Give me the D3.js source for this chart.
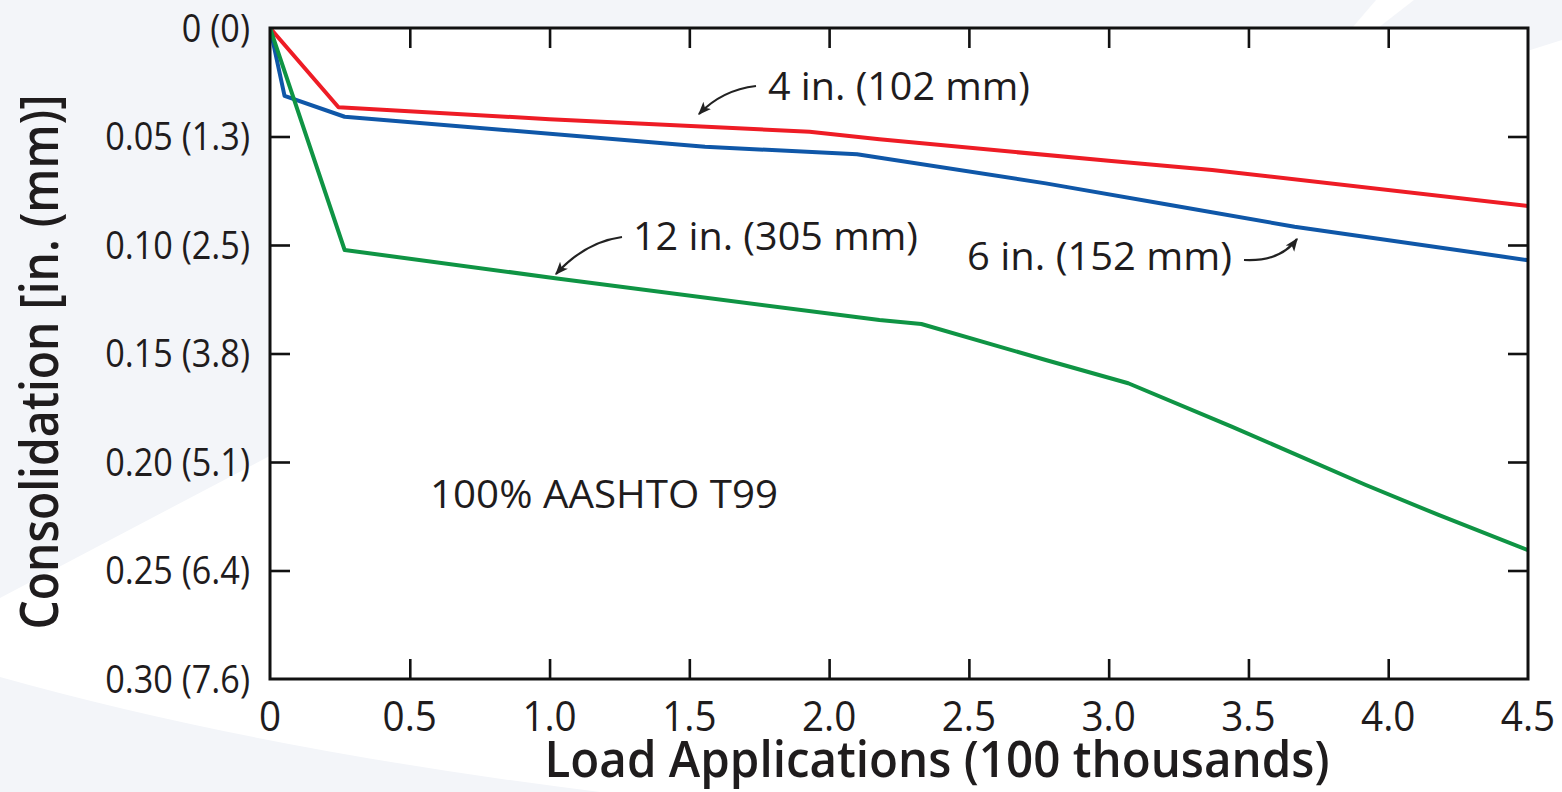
<!DOCTYPE html>
<html>
<head>
<meta charset="utf-8">
<script src="https://cdn.jsdelivr.net/npm/d3@7/dist/d3.min.js"></script>
<style>
  html, body { margin: 0; padding: 0; background: #f3f5f9; }
  svg { display: block; }
  text { font-family: "Open Sans", "Noto Sans", sans-serif; fill: #1f1c1d; }
</style>
</head>
<body>
<svg id="chart" width="1562" height="792"></svg>
<script>
// Load applications, in hundreds of thousands
const xTicks = [0, 0.5, 1.0, 1.5, 2.0, 2.5, 3.0, 3.5, 4.0, 4.5];
const xTickLabels = ["0", "0.5", "1.0", "1.5", "2.0", "2.5", "3.0", "3.5", "4.0", "4.5"];
// Consolidation, in inches (mm in brackets)
const yTicks = [0, 0.05, 0.10, 0.15, 0.20, 0.25, 0.30];
const yTickLabels = ["0 (0)", "0.05 (1.3)", "0.10 (2.5)", "0.15 (3.8)", "0.20 (5.1)", "0.25 (6.4)", "0.30 (7.6)"];

// [load applications, consolidation in.] for each base thickness
const base4in = [[0, 0], [0.245, 0.0365], [1.0, 0.042], [1.93, 0.0478], [2.18, 0.0513], [3.0, 0.0612], [3.37, 0.0654], [4.5, 0.082]];
const base6in = [[0, 0], [0.052, 0.0313], [0.267, 0.0409], [1.556, 0.0547], [2.1, 0.0582], [2.775, 0.0716], [3.22, 0.0816], [3.665, 0.0916], [4.5, 0.107]];
const base12in = [[0, 0], [0.267, 0.1023], [1.02, 0.1153], [2.18, 0.1346], [2.33, 0.1364], [2.775, 0.153], [3.07, 0.1637], [3.44, 0.1837], [3.92, 0.2106], [4.18, 0.2244], [4.5, 0.2406]];

const seriesNames = ["4 in. (102 mm)", "6 in. (152 mm)", "12 in. (305 mm)"];
const seriesColors = ["#ee1c25", "#0f57a8", "#0f9444"];

const svg = d3.select("#chart");
const W = 1562, H = 792;
const m = { left: 270, top: 28, right: 1528, bottom: 679 };

// soft page backdrop with white swooshes
svg.append("rect").attr("width", W).attr("height", H).attr("fill", "#f3f5f9");
svg.append("path")
  .attr("d", "M0,598 L300,440 L1562,40 L1562,792 L600,792 Q260,750 0,677 Z")
  .attr("fill", "#ffffff");
svg.append("path")
  .attr("d", "M1352,28 L1378,28 L1414,0 L1376,0 Z")
  .attr("fill", "#ffffff");

const x = d3.scaleLinear().domain([0, 4.5]).range([m.left, m.right]);
const y = d3.scaleLinear().domain([0, 0.30]).range([m.top, m.bottom]);

// plot background
svg.append("rect")
  .attr("x", m.left).attr("y", m.top)
  .attr("width", m.right - m.left).attr("height", m.bottom - m.top)
  .attr("fill", "#ffffff");

svg.append("clipPath").attr("id", "plotClip")
  .append("rect")
  .attr("x", m.left).attr("y", m.top)
  .attr("width", m.right - m.left).attr("height", m.bottom - m.top);

// data lines
const line = d3.line().x(d => x(d[0])).y(d => y(d[1]));
const series = [base4in, base6in, base12in];
svg.append("g").attr("clip-path", "url(#plotClip)")
  .selectAll("path")
  .data(series)
  .join("path")
  .attr("d", line)
  .attr("fill", "none")
  .attr("stroke", (d, i) => seriesColors[i])
  .attr("stroke-width", 4)
  .attr("stroke-linejoin", "round")
  .attr("stroke-linecap", "round");

// inward ticks on all four sides
const tickLen = 20;
const tickStyle = g => g.call(s => s.select(".domain").remove())
  .call(s => s.selectAll(".tick line").attr("stroke", "#111").attr("stroke-width", 2.6))
  .call(s => s.selectAll(".tick text").remove());

const innerX = xTicks.slice(1, -1);
const innerY = yTicks.slice(1, -1);

svg.append("g").attr("transform", `translate(0,${m.bottom})`)
  .call(d3.axisTop(x).tickValues(innerX).tickSizeInner(tickLen).tickSizeOuter(0))
  .call(tickStyle);
svg.append("g").attr("transform", `translate(0,${m.top})`)
  .call(d3.axisBottom(x).tickValues(innerX).tickSizeInner(tickLen).tickSizeOuter(0))
  .call(tickStyle);
svg.append("g").attr("transform", `translate(${m.left},0)`)
  .call(d3.axisRight(y).tickValues(innerY).tickSizeInner(tickLen).tickSizeOuter(0))
  .call(tickStyle);
svg.append("g").attr("transform", `translate(${m.right},0)`)
  .call(d3.axisLeft(y).tickValues(innerY).tickSizeInner(tickLen).tickSizeOuter(0))
  .call(tickStyle);

// frame
svg.append("rect")
  .attr("x", m.left).attr("y", m.top)
  .attr("width", m.right - m.left).attr("height", m.bottom - m.top)
  .attr("fill", "none").attr("stroke", "#111").attr("stroke-width", 3);

// narrow the glyphs a little for a condensed humanist look
function condense(sel, k) {
  sel.each(function () {
    const w = this.getComputedTextLength();
    d3.select(this).attr("textLength", w * k).attr("lengthAdjust", "spacingAndGlyphs");
  });
}

// x tick labels
svg.append("g").selectAll("text")
  .data(xTicks)
  .join("text")
  .attr("x", d => x(d))
  .attr("y", 731)
  .attr("text-anchor", "middle")
  .attr("font-size", 42)
  .attr("font-weight", 500)
  .text((d, i) => xTickLabels[i])
  .call(condense, 0.92);

// y tick labels
svg.append("g").selectAll("text")
  .data(yTicks)
  .join("text")
  .attr("x", 250)
  .attr("y", d => y(d))
  .attr("dy", "0.36em")
  .attr("text-anchor", "end")
  .attr("font-size", 38)
  .attr("font-weight", 500)
  .text((d, i) => yTickLabels[i])
  .call(condense, 0.9);

// axis titles
svg.append("text")
  .attr("x", 937).attr("y", 777)
  .attr("text-anchor", "middle")
  .attr("font-size", 50)
  .attr("font-weight", 600)
  .attr("textLength", 785).attr("lengthAdjust", "spacingAndGlyphs")
  .text("Load Applications (100 thousands)");

svg.append("text")
  .attr("transform", "translate(58,362) rotate(-90)")
  .attr("text-anchor", "middle")
  .attr("font-size", 52)
  .attr("font-weight", 600)
  .attr("textLength", 535).attr("lengthAdjust", "spacingAndGlyphs")
  .text("Consolidation [in. (mm)]");

// series annotations
const notes = [
  { text: seriesNames[0], x: 768, y: 100, w: 262 },
  { text: seriesNames[2], x: 633, y: 250, w: 285 },
  { text: seriesNames[1], x: 967, y: 270, w: 265 },
  { text: "100% AASHTO T99", x: 430, y: 508, w: 348 }
];
svg.append("g").selectAll("text")
  .data(notes)
  .join("text")
  .attr("x", d => d.x).attr("y", d => d.y)
  .attr("font-size", 38)
  .attr("textLength", d => d.w).attr("lengthAdjust", "spacingAndGlyphs")
  .text(d => d.text);

// curved leader arrows
svg.append("defs").append("marker")
  .attr("id", "head")
  .attr("viewBox", "0 0 10 10")
  .attr("refX", 9).attr("refY", 5)
  .attr("markerWidth", 6).attr("markerHeight", 6)
  .attr("markerUnits", "strokeWidth")
  .attr("orient", "auto")
  .append("path")
  .attr("d", "M0,1 L10,5 L0,9 L2.5,5 Z")
  .attr("fill", "#222");

const arrows = [
  "M756,86 Q722,90 699,114",
  "M622,237 Q585,242 556,274",
  "M1244,260 Q1280,262 1297,239"
];
svg.append("g").selectAll("path")
  .data(arrows)
  .join("path")
  .attr("d", d => d)
  .attr("fill", "none")
  .attr("stroke", "#222")
  .attr("stroke-width", 2.2)
  .attr("marker-end", "url(#head)");
</script>
</body>
</html>
